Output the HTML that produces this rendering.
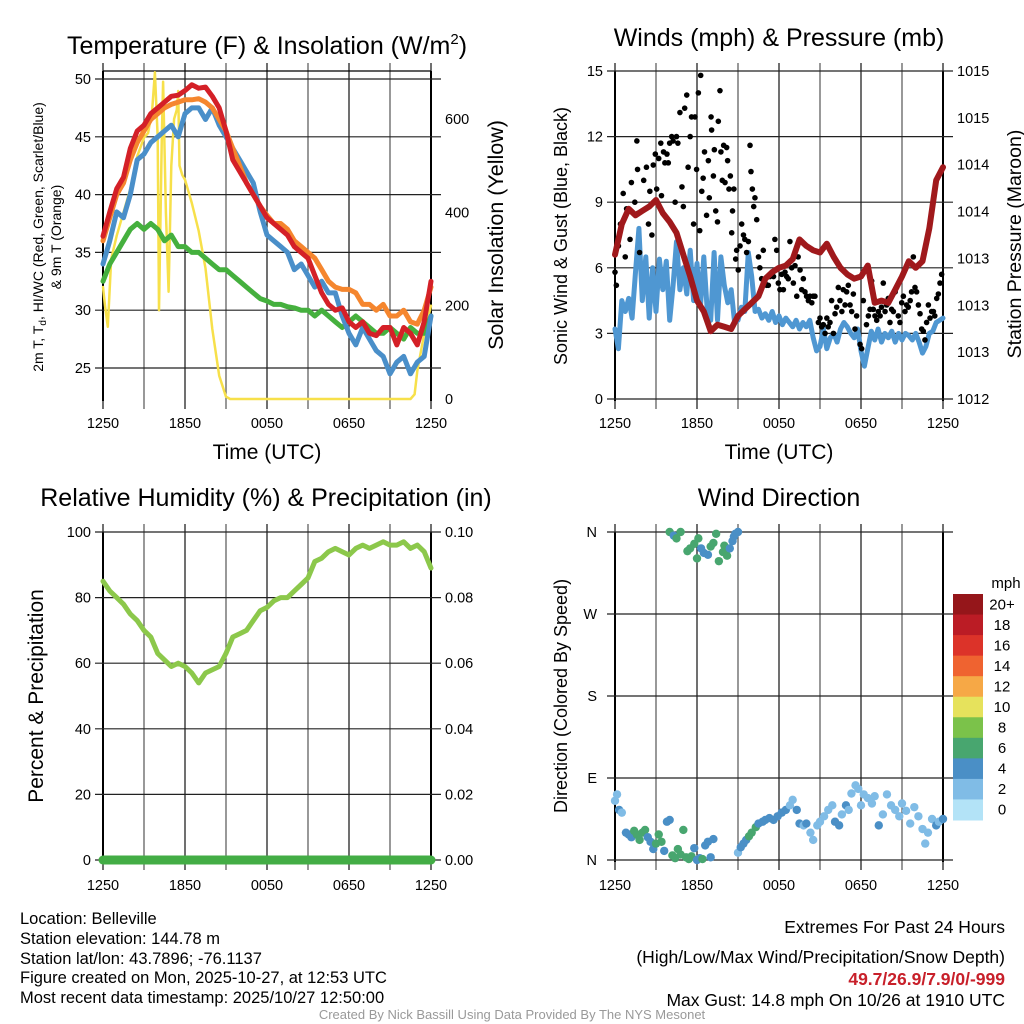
<!DOCTYPE html>
<html><head><meta charset="utf-8">
<style>
html,body{margin:0;padding:0;background:#fff;}
svg{display:block;font-family:"Liberation Sans",Arial,sans-serif;}
</style></head>
<body>
<svg id="fig" width="1024" height="1024" viewBox="0 0 1024 1024" xmlns="http://www.w3.org/2000/svg">
<rect width="1024" height="1024" fill="#fff"/>
<g id="static" font-size="14" fill="#000">
<text x="267" y="54" font-size="25" text-anchor="middle">Temperature (F) &amp; Insolation (W/m<tspan dy="-10" font-size="15">2</tspan><tspan dy="10">)</tspan></text>
<text x="779" y="46" font-size="25" text-anchor="middle">Winds (mph) &amp; Pressure (mb)</text>
<text x="266" y="506" font-size="25" text-anchor="middle">Relative Humidity (%) &amp; Precipitation (in)</text>
<text x="779" y="506" font-size="25" text-anchor="middle">Wind Direction</text>
<text x="267" y="459" font-size="21" text-anchor="middle">Time (UTC)</text>
<text x="779" y="459" font-size="21" text-anchor="middle">Time (UTC)</text>
<text transform="translate(43,237) rotate(-90)" font-size="14" text-anchor="middle">2m T, T<tspan font-size="10" dy="3">d</tspan><tspan dy="-3">, HI/WC (Red, Green, Scarlet/Blue)</tspan></text>
<text transform="translate(61,237) rotate(-90)" font-size="14" text-anchor="middle">&amp; 9m T (Orange)</text>
<text transform="translate(503,235) rotate(-90)" font-size="21.5" text-anchor="middle">Solar Insolation (Yellow)</text>
<text transform="translate(567,236) rotate(-90)" font-size="18" text-anchor="middle">Sonic Wind &amp; Gust (Blue, Black)</text>
<text transform="translate(1021,244) rotate(-90)" font-size="19.5" text-anchor="middle">Station Pressure (Maroon)</text>
<text transform="translate(43,696) rotate(-90)" font-size="21" text-anchor="middle">Percent &amp; Precipitation</text>
<text transform="translate(567,696) rotate(-90)" font-size="18" text-anchor="middle">Direction (Colored By Speed)</text>
<g font-size="16.5">
<text x="20" y="924">Location: Belleville</text>
<text x="20" y="944">Station elevation: 144.78 m</text>
<text x="20" y="964">Station lat/lon: 43.7896; -76.1137</text>
<text x="20" y="983">Figure created on Mon, 2025-10-27, at 12:53 UTC</text>
<text x="20" y="1003">Most recent data timestamp: 2025/10/27 12:50:00</text>
</g>
<g font-size="17.5" text-anchor="end">
<text x="1005" y="933">Extremes For Past 24 Hours</text>
<text x="1005" y="963">(High/Low/Max Wind/Precipitation/Snow Depth)</text>
<text x="1005" y="985" font-weight="bold" fill="#c8202a">49.7/26.9/7.9/0/-999</text>
<text x="1005" y="1006">Max Gust: 14.8 mph On 10/26 at 1910 UTC</text>
</g>
<text x="512" y="1019" font-size="13" fill="#999" text-anchor="middle">Created By Nick Bassill Using Data Provided By The NYS Mesonet</text>
</g>
</svg>
<script>
// ---------- data ----------
const xTickLabels = ["1250","1850","0050","0650","1250"];
const tempTicks = [25,30,35,40,45,50];
const solarTicks = [0,200,400,600];
const windTicks = [0,3,6,9,12,15];
const pressTickLabels = ["1012","1013","1013","1013","1014","1014","1015","1015"];
const rhTicks = [0,20,40,60,80,100];
const precipTickLabels = ["0.00","0.02","0.04","0.06","0.08","0.10"];
const dirTickLabels = ["N","E","S","W","N"];
const speedLabels = ["0","2","4","6","8","10","12","14","16","18","20+"];
const speedColors = ["#b3e3f7","#80bce6","#4a8fc6","#48a66f","#7bc24a","#e6e25c","#f6a846","#ef6330","#dc3329","#bb1c25","#95161a"];

const redT = [36.4,38.5,40.5,41.5,44,45.5,46,47,47.5,48,48.5,48.6,49,49.5,49.2,49.3,48.5,47.5,45.5,43,42,41,40,39,38,37.5,37,36.5,35.5,35,34.5,33,31.5,30.5,30,30.2,29,28.5,29,28,27.8,28.5,28.5,27,28.5,28,27,29,32.5];
const orangeT = [36,38,40,41,43,44.5,45.5,46.5,47,47.5,47.8,48,48.2,48.2,48.3,48,47.5,46.5,45.5,44,42.5,41,40,39,38.2,37.5,37.5,37,36,35.5,35,34.5,33.5,32.5,32,31.8,31.8,31.5,30.5,30.5,30,30.5,29.5,29.5,30,29,28.8,30,32];
const blueT = [34,36,38.5,38,40,43,43.5,44.5,45,45.5,46,45,47,47.5,47.5,46.5,47.5,46,45,44,43,42,41,38.5,36.5,36,35.5,35,33.5,34,33,32,32.5,31.5,31.5,29.5,28,27,28.5,27.5,26.5,26,24.5,25.5,26,24.5,25.5,26,29.5];
const greenTd = [32.5,34,35,36,37,37.5,37,37.5,37,36,36.5,35.5,35.5,35,35,34.5,34,33.5,33.5,33,32.5,32,31.5,31,30.8,30.5,30.5,30.3,30.2,30,30,29.5,30,29.5,29,28.5,29,29.5,29,28.5,28,28,28.5,28,27.5,28.5,28,28,29.5];
const solarHours = [0,0.15,0.35,0.6,1,1.5,2,2.5,3,3.3,3.6,3.8,4.0,4.1,4.3,4.4,4.6,4.8,5.0,5.2,5.4,5.5,5.6,5.8,6.0,6.5,7,7.5,8,8.5,9,9.3,22.5,22.8,23,23.5,24];
const solarW = [240,200,155,300,350,400,450,520,560,570,620,700,560,190,560,680,400,230,500,600,620,660,500,480,470,420,360,280,150,50,5,0,0,10,60,140,200];

const sonicWind = [3.2,2.3,4.5,4.0,4.6,3.7,5.8,7.8,4.5,6.5,3.7,6.0,4.0,6.4,5.0,6.3,3.6,5.2,7.2,5.0,6.0,4.8,6.8,4.5,6.2,4.2,6.5,4.0,3.6,6.7,3.6,6.5,5.2,4.4,5.0,3.5,3.6,4.2,4.0,6.7,5.6,4.0,4.1,3.7,3.9,3.6,4.0,3.5,3.8,3.4,3.7,3.5,3.3,3.6,3.2,3.5,3.3,3.6,2.8,2.2,2.4,3.2,2.3,2.8,3.0,2.6,3.2,3.5,3.3,3.0,2.8,3.2,2.2,1.5,2.3,3.1,2.7,3.2,2.6,3.0,2.8,3.1,2.6,3.0,2.7,3.0,2.9,2.7,3.0,2.6,2.1,2.4,3.0,3.1,3.5,3.6,3.7];
const gustHours = [0,0.1,0.25,0.4,0.6,0.75,0.85,1.1,1.2,1.45,1.6,1.7,1.8,1.65,2.1,2.3,2.45,2.55,2.7,2.8,2.95,3.05,3.2,3.35,3.4,3.55,3.65,3.8,3.9,4.0,4.15,4.25,4.4,4.5,4.6,4.75,4.9,5.0,5.1,5.25,5.35,5.5,5.6,5.75,5.85,5.97,6.1,6.2,6.27,6.35,6.45,6.55,6.7,6.83,6.9,7.03,7.07,7.2,7.27,7.37,7.5,7.56,7.68,7.75,7.85,7.95,8.05,8.17,8.24,8.34,8.44,8.54,8.6,8.7,8.83,8.9,9.02,9.15,9.27,9.4,9.5,9.63,9.76,9.88,9.95,10.05,10.15,10.24,10.37,10.5,10.6,10.73,10.85,10.98,11.1,11.22,11.34,11.6,11.7,11.83,11.95,12.07,12.2,12.32,12.44,12.56,12.68,12.8,12.93,13.05,13.17,13.3,13.4,13.54,13.66,13.78,13.9,14.02,14.15,14.27,14.4,14.5,14.63,14.88,15.0,15.12,15.24,15.37,15.5,15.6,15.73,15.85,15.98,16.1,16.22,16.34,16.46,16.6,16.7,16.83,16.95,17.07,17.2,17.32,17.44,17.56,17.68,17.93,18.05,18.17,18.4,18.54,18.66,18.78,18.9,19.02,19.15,19.27,19.4,19.5,19.63,19.76,19.88,20.0,20.12,20.24,20.37,20.5,20.6,20.73,20.85,20.98,21.1,21.22,21.34,21.46,21.6,21.7,21.83,21.95,22.07,22.2,22.32,22.44,22.56,22.68,22.8,22.93,23.05,23.17,23.3,23.4,23.54,23.66,23.78,23.9];
const gustMph = [5.8,5.2,7,8,9.4,6.5,8.7,7.3,9.9,9,11.8,8.5,6.7,10.5,10,10.6,8,9.5,7.5,10.7,11.2,9.6,11,11.7,9.3,11.3,10.8,11.2,10.8,11.7,12,11.8,9,12,11.7,13.1,9.7,8.8,13.3,13.9,10.6,12,12.9,8,12.9,10.5,14,7.7,14.8,9.5,10.1,11.3,8.4,10.9,9.2,12.9,12.3,10.2,11.4,8.6,8.1,12.7,14.1,11.3,10,11.6,9.9,11.5,10.9,9.6,10.2,7.6,8.6,9.6,6.4,6.8,5.9,7.0,8.0,7.5,7.3,6.7,7.2,11.6,10.4,9.6,8.8,9.2,8.2,6.5,6.0,5.5,6.8,5.3,5.2,5.2,5.6,5.6,7.3,6.8,5.3,5.0,5.7,5.0,5.8,5.6,5.5,7.2,6.0,5.3,6.1,4.7,6.5,5.9,5.0,5.5,4.9,4.7,4.5,4.7,4.4,4.7,4.7,3.5,3.7,3.3,3.4,3.0,3.7,3.3,3.5,4.5,3.0,3.9,4.2,5.1,4.5,4.0,5.0,4.3,4.9,5.2,4.3,4.0,4.8,3.2,3.8,2.5,2.3,4.5,3.4,3.8,4.1,5.4,4.1,3.8,3.6,4.0,3.8,4.2,5.3,4.0,4.3,4.6,3.5,4.1,4.0,4.9,5.1,3.8,3.5,4.4,4.7,4.0,4.3,4.2,4.5,4.9,6.5,5.1,4.9,4.3,3.9,3.2,3.1,2.7,3.5,4.3,3.7,4.0,4.0,3.8,4.6,4.8,5.3,5.7];
const pressureMb = [1013.32,1013.60,1013.74,1013.68,1013.72,1013.76,1013.82,1013.70,1013.62,1013.52,1013.32,1013.12,1012.90,1012.80,1012.62,1012.68,1012.66,1012.64,1012.76,1012.82,1012.88,1012.94,1013.10,1013.16,1013.20,1013.22,1013.28,1013.46,1013.40,1013.36,1013.34,1013.42,1013.30,1013.20,1013.14,1013.10,1013.12,1013.22,1012.88,1012.90,1012.88,1013.00,1013.12,1013.26,1013.20,1013.26,1013.56,1014.00,1014.12];
const rhPct = [85,82,80,78,75,73,70,68,63,61,59,60,59,57,54,57,58,59,63,68,69,70,73,76,77,79,80,80,82,84,86,91,92,94,95,94,93,95,96,95,96,97,96,96,97,95,96,94,89];
const precipIn = [0,0,0,0,0,0,0,0,0,0,0,0,0,0,0,0,0,0,0,0,0,0,0,0,0];
const dirHours = [0.0,0.15,0.3,0.5,0.8,1.0,1.2,1.4,1.6,1.8,2.0,2.2,2.4,2.6,2.8,3.0,3.2,3.4,3.6,3.8,4.0,4.2,4.4,4.6,4.8,5.0,5.2,5.4,5.6,5.8,6.0,6.2,6.4,6.6,6.8,7.0,7.2,
 4.0,4.3,4.5,4.8,5.3,5.5,5.8,6.0,6.1,6.3,6.5,6.8,7.0,7.2,7.4,7.6,7.9,8.0,8.2,8.4,8.6,8.7,8.8,9.0,
 9.0,9.2,9.4,9.6,9.8,10.0,10.3,10.5,10.8,11.0,11.3,11.6,11.9,12.2,12.5,12.8,13.0,13.3,13.5,13.8,14.0,14.3,14.5,14.8,15.0,15.3,15.6,15.9,16.1,16.4,16.6,16.9,17.1,17.3,17.6,17.8,18.0,18.2,18.5,18.8,19.0,19.3,19.6,19.9,20.2,20.5,20.8,21.0,21.3,21.6,21.9,22.2,22.5,22.7,22.9,23.2,23.5,23.7,24.0];
const dirDeg = [65,72,55,52,30,28,25,32,28,22,30,33,25,20,12,18,28,20,10,42,44,5,2,12,6,33,3,1,4,13,0,2,1,16,20,3,23,
 360,356,353,360,339,342,347,331,353,342,337,335,344,348,358,328,338,345,334,342,350,355,358,360,
 8,14,18,22,26,30,36,40,42,44,46,44,48,52,55,60,66,55,40,38,40,30,22,38,42,48,55,60,42,38,50,60,55,73,82,78,60,72,68,62,70,38,50,72,60,55,48,62,54,40,58,48,34,18,30,45,38,42,45];
const dirSpeed = [3,3,4,3,4,4,5,6,7,6,6,6,4,4,4,6,6,6,5,4,4,6,6,6,6,6,6,6,6,4,4,4,6,4,4,4,4,
 6,4,6,6,6,6,6,6,6,4,4,4,6,6,6,6,6,6,6,4,4,4,4,4,
 2,4,4,4,6,6,6,4,4,4,4,4,4,4,4,2,2,4,4,2,4,2,2,2,2,2,2,2,4,4,2,4,2,2,2,2,2,2,2,2,2,4,2,2,2,2,2,2,2,2,2,2,2,2,2,2,4,2,4];

// ---------- drawing ----------
const NS = "http://www.w3.org/2000/svg";
const svg = document.getElementById("fig");
function mk(tag, attrs, parent){
  const e = document.createElementNS(NS, tag);
  for (const k in attrs) e.setAttribute(k, attrs[k]);
  (parent || svg).appendChild(e);
  return e;
}
const PW = 328;
function xs(h, x0){ return x0 + h * PW / 24; }
function lin(v, d0, d1, y0, y1){ return y0 + (v - d0) / (d1 - d0) * (y1 - y0); }

function panelFrame(name, x0, top, y0){
  const g = mk("g", {});
  
  
  for (let i = 0; i <= 8; i++){
    const x = x0 + i * PW / 8;
    const l = mk("line", {x1:x, x2:x, y1:top-8, y2:y0+10, stroke: i%2 ? "#555" : "#111", "stroke-width":1.2}, g);
    
    
  }
  const lx = mk("line", {x1:x0, x2:x0, y1:top, y2:y0+2, stroke:"#000", "stroke-width":2}, g);
  
  
  const rx = mk("line", {x1:x0+PW, x2:x0+PW, y1:top, y2:y0+2, stroke:"#000", "stroke-width":2}, g);
  
  
  return g;
}
function hgrid(g, name, x0, y){
  const l = mk("line", {x1:x0-8, x2:x0+PW+10, y1:y, y2:y, stroke:"#222", "stroke-width":1.2}, g);
  
  
}
function label(txt, x, y, anchor, name, size){
  const t = mk("text", {x:x, y:y, "text-anchor":anchor, "font-size":size||14.5, fill:"#000"});
  t.textContent = txt;
  
  
  return t;
}
function xLabels(x0, y, name){
  xTickLabels.forEach((s, i) => {
    label(s, x0 + i * PW / 4, y, "middle", name + '-x-tick-label');
  });
}
function polyline(xsArr, ysArr, color, width, name){
  const pts = xsArr.map((x, i) => x.toFixed(1) + "," + ysArr[i].toFixed(1)).join(" ");
  const p = mk("polyline", {points:pts, fill:"none", stroke:color, "stroke-width":width, "stroke-linejoin":"round", "stroke-linecap":"round"});
  
  
  return p;
}
function hoursOf(arr){ return arr.map((_, i) => i * 24 / (arr.length - 1)); }

// ===== Panel 1: temperature =====
{
  const X0 = 103, TOP = 71, BOT = 399;
  const tY = v => lin(v, 25, 50, 368, 79);
  const sY = v => lin(v, 0, 600, 399, 119);
  const g = panelFrame("temp", X0, TOP, BOT);
  tempTicks.forEach(v => { hgrid(g, "temp", X0, tY(v)); label(String(v), X0-12, tY(v)+5, "end", "temp-y-tick-label"); });
  const topL = mk("line", {x1:X0, x2:X0+PW, y1:TOP, y2:TOP, stroke:"#000", "stroke-width":1.2}, g);
  
  
  solarTicks.forEach(v => label(String(v), X0+PW+14, sY(v)+5, "start", "solar-y-tick-label"));
  xLabels(X0, 428, "temp");
  polyline(solarHours.map(h => xs(h, X0)), solarW.map(sY), "#f7e04a", 2.5, "solar-insolation-line");
  polyline(hoursOf(greenTd).map(h => xs(h, X0)), greenTd.map(tY), "#45b03e", 5, "dewpoint-line");
  polyline(hoursOf(blueT).map(h => xs(h, X0)), blueT.map(tY), "#4a8fc9", 5, "heat-index-windchill-line");
  polyline(hoursOf(orangeT).map(h => xs(h, X0)), orangeT.map(tY), "#f5862e", 5, "temp-9m-line");
  polyline(hoursOf(redT).map(h => xs(h, X0)), redT.map(tY), "#d42027", 5, "temp-2m-line");
}

// ===== Panel 2: winds & pressure =====
{
  const X0 = 615, TOP = 71, BOT = 399;
  const wY = v => lin(v, 0, 15, 399, 71);
  const pY = v => lin(v, 1012, 1015, 399, 71);
  const g = panelFrame("wind", X0, TOP, BOT);
  windTicks.forEach(v => { hgrid(g, "wind", X0, wY(v)); label(String(v), X0-12, wY(v)+5, "end", "wind-y-tick-label"); });
  pressTickLabels.forEach((s, i) => label(s, X0+PW+14, lin(i, 0, pressTickLabels.length-1, 399, 71)+5, "start", "pressure-y-tick-label"));
  xLabels(X0, 428, "wind");
  polyline(hoursOf(sonicWind).map(h => xs(h, X0)), sonicWind.map(wY), "#4f97d2", 5, "sonic-wind-line");
  gustHours.forEach((h, i) => {
    const c = mk("circle", {cx:xs(h, X0), cy:wY(gustMph[i]), r:2.8, fill:"#000"});
    
    
  });
  polyline(hoursOf(pressureMb).map(h => xs(h, X0)), pressureMb.map(pY), "#a0191c", 6, "station-pressure-line");
}

// ===== Panel 3: RH & precip =====
{
  const X0 = 103, TOP = 532, BOT = 860;
  const rY = v => lin(v, 0, 100, 860, 532);
  const g = panelFrame("rh", X0, TOP, BOT);
  rhTicks.forEach(v => { hgrid(g, "rh", X0, rY(v)); label(String(v), X0-12, rY(v)+5, "end", "rh-y-tick-label"); });
  precipTickLabels.forEach((s, i) => label(s, X0+PW+14, lin(i, 0, 5, 860, 532)+5, "start", "precip-y-tick-label"));
  xLabels(X0, 890, "rh");
  polyline(hoursOf(rhPct).map(h => xs(h, X0)), rhPct.map(rY), "#8cc84b", 5, "relative-humidity-line");
  polyline(hoursOf(precipIn).map(h => xs(h, X0)), precipIn.map(v => lin(v, 0, 0.1, 860, 532)), "#43ad45", 9, "precipitation-line");
}

// ===== Panel 4: wind direction =====
{
  const X0 = 615, TOP = 532, BOT = 860;
  const dY = v => lin(v, 0, 360, 860, 532);
  const g = panelFrame("dir", X0, TOP, BOT);
  dirTickLabels.forEach((s, i) => { const y = dY(i*90); hgrid(g, "dir", X0, y); label(s, X0-18, y+5, "end", "dir-y-tick-label"); });
  xLabels(X0, 890, "dir");
  dirHours.forEach((h, i) => {
    const idx = Math.min(10, Math.floor(dirSpeed[i] / 2));
    const c = mk("circle", {cx:xs(h, X0), cy:dY(dirDeg[i]), r:4.2, fill:speedColors[idx]});
    
    
  });
  const CB_TOP = 594, CB_H = 226, CB_X = 953, CB_W = 30;
  const bh = CB_H / speedColors.length;
  speedColors.forEach((col, i) => {
    const k = speedColors.length - 1 - i;
    const r = mk("rect", {x:CB_X, y:CB_TOP + i*bh, width:CB_W, height:bh+0.5, fill:speedColors[k]});
    
    
    label(speedLabels[k], 1002, CB_TOP + i*bh + bh/2 + 5, "middle", "colorbar-label", 15);
  });
  label("mph", 1006, 588, "middle", "colorbar-title", 15);
}
</script>
</body></html>
